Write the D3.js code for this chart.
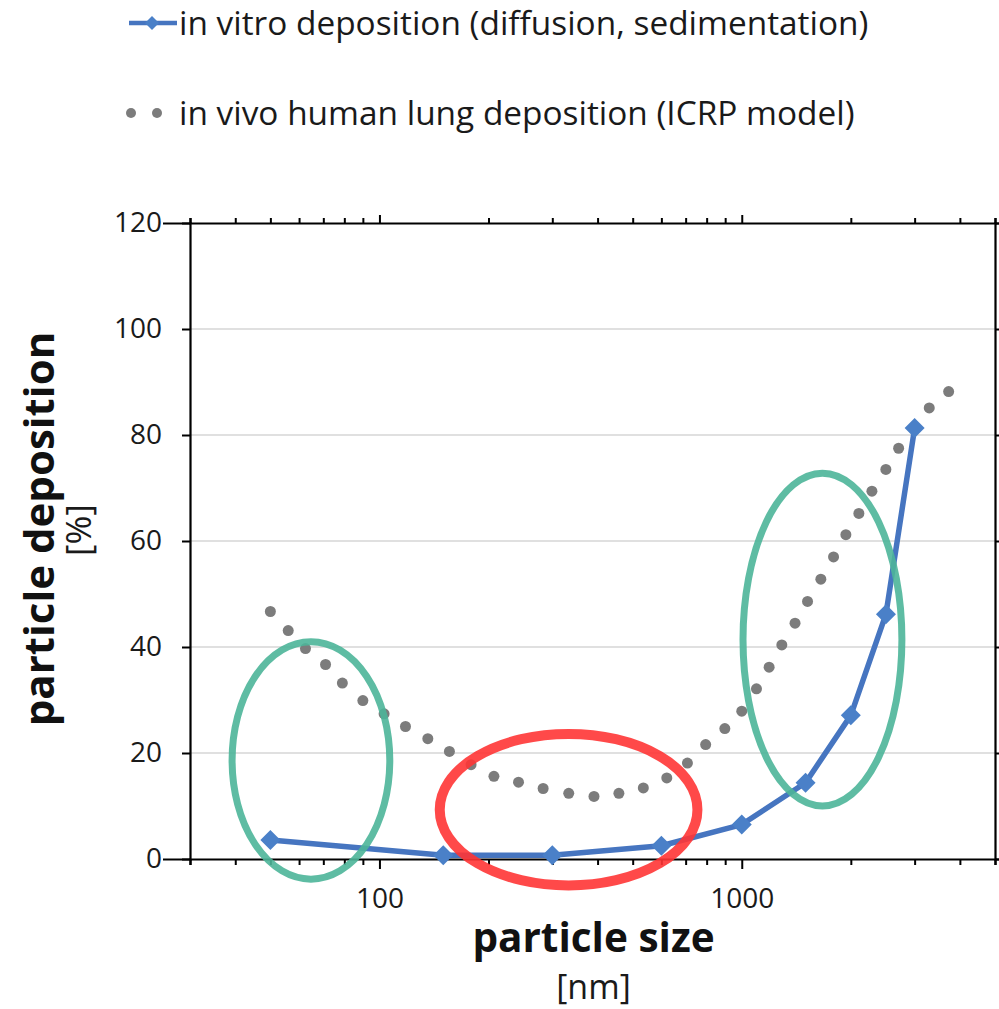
<!DOCTYPE html>
<html>
<head>
<meta charset="utf-8">
<script src="https://cdn.jsdelivr.net/npm/d3@7"></script>
<style>
  body { margin: 0; background: #fff; }
  svg { display: block; font-family: "Open Sans", sans-serif; }
</style>
</head>
<body>
<div id="chart"></div>
<script>
// in vitro deposition (diffusion, sedimentation)
const vitroSize = [50, 150, 300, 600, 1000, 1500, 2000, 2500, 3000];
const vitroDeposition = [3.6, 0.7, 0.7, 2.5, 6.5, 14.4, 27.1, 46.2, 81.3];

// in vivo human lung deposition (ICRP model), dotted curve
const vivoSize = [50, 56, 62.5, 71, 79, 90, 103, 118, 136, 156, 179, 207, 242, 283, 333, 391, 458, 535,
  621, 708, 795, 898, 1000, 1098, 1190, 1290, 1403, 1519, 1653, 1792, 1938, 2105, 2287, 2499, 2710, 2986, 3292, 3724];
const vivoDeposition = [46.7, 43.1, 39.7, 36.7, 33.2, 29.9, 27.4, 25.0, 22.7, 20.3, 17.8, 15.6, 14.5, 13.3, 12.4, 11.8, 12.4, 13.4,
  15.3, 18.1, 21.6, 24.6, 27.9, 32.1, 36.2, 40.4, 44.5, 48.6, 52.8, 57.0, 61.2, 65.2, 69.4, 73.5, 77.5, 81.3, 85.1, 88.2];

const yTicks = [0, 20, 40, 60, 80, 100, 120];
const xMajorTicks = [100, 1000];
const xMinorTicks = [30, 40, 50, 60, 70, 80, 90, 200, 300, 400, 500, 600, 700, 800, 900, 2000, 3000, 4000, 5000];

// highlighted regions (size range in nm, deposition range in %)
const zoneKind = ["green", "red", "green"];
const zoneSize = [[39.2, 106.8], [146.7, 754.5], [1008, 2767]];
const zoneDeposition = [[-3.8, 41.0], [-5.0, 23.6], [10.0, 72.8]];

const W = 999, H = 1009;
const M = { top: 223, right: 4, bottom: 150, left: 190 };
const BLUE = "#4675c0", BLUE_MARK = "#4a80c8", GREY = "#7c7c7c";
const ZONE_COLOR = { green: "#4db599", red: "#ff3535" };

const svg = d3.select("#chart").append("svg").attr("width", W).attr("height", H);

const x = d3.scaleLog().domain([30, 5000]).range([M.left, W - M.right]);
const y = d3.scaleLinear().domain([0, 120]).range([H - M.bottom, M.top]);

// gridlines
svg.append("g")
  .selectAll("line")
  .data(yTicks.filter((d) => d > 0 && d < 120))
  .enter()
  .append("line")
  .attr("x1", M.left)
  .attr("x2", W - M.right)
  .attr("y1", (d) => y(d))
  .attr("y2", (d) => y(d))
  .attr("stroke", "#d6d6d6")
  .attr("stroke-width", 1.5);

function styleAxis(g) {
  g.selectAll("path.domain").attr("stroke", "#000").attr("stroke-width", 2.2);
  g.selectAll(".tick line").attr("stroke", "#000").attr("stroke-width", 2);
  g.selectAll(".tick text").attr("font-family", "Open Sans").attr("font-size", 28).attr("fill", "#1a1a1a");
}

const bottomY = H - M.bottom;
svg.append("g").attr("transform", `translate(0,${bottomY})`)
  .call(d3.axisBottom(x).tickValues(xMinorTicks).tickSize(6).tickFormat(""))
  .call(styleAxis);
svg.append("g").attr("transform", `translate(0,${bottomY})`)
  .call(d3.axisBottom(x).tickValues(xMajorTicks).tickSize(10).tickPadding(19).tickFormat(d3.format("d")))
  .call(styleAxis)
  .call((g) => g.select("path.domain").remove());

svg.append("g").attr("transform", `translate(0,${M.top})`)
  .call(d3.axisTop(x).tickValues(xMinorTicks).tickSize(5).tickFormat(""))
  .call(styleAxis);
svg.append("g").attr("transform", `translate(0,${M.top})`)
  .call(d3.axisTop(x).tickValues(xMajorTicks).tickSize(8).tickFormat(""))
  .call(styleAxis)
  .call((g) => g.select("path.domain").remove());

svg.append("g").attr("transform", `translate(${M.left},0)`)
  .call(d3.axisLeft(y).tickValues(yTicks).tickSize(8).tickPadding(20))
  .call(styleAxis)
  .call((g) => g.selectAll(".tick line").filter((d) => d === 0 || d === 120).attr("x2", -27));

svg.append("g").attr("transform", `translate(${W - M.right},0)`)
  .call(d3.axisRight(y).tickValues(yTicks).tickSize(8).tickFormat(""))
  .call(styleAxis);

// in vivo dotted series
svg.append("g")
  .selectAll("circle")
  .data(vivoSize.map((s, i) => [s, vivoDeposition[i]]))
  .enter()
  .append("circle")
  .attr("cx", (d) => x(d[0]))
  .attr("cy", (d) => y(d[1]))
  .attr("r", 5.5)
  .attr("fill", GREY);

// in vitro line + diamonds
const vitro = vitroSize.map((s, i) => [s, vitroDeposition[i]]);
svg.append("path")
  .datum(vitro)
  .attr("fill", "none")
  .attr("stroke", BLUE)
  .attr("stroke-width", 5.5)
  .attr("stroke-linejoin", "round")
  .attr("d", d3.line().x((d) => x(d[0])).y((d) => y(d[1])));

const diamond = (r) => `M0,${-r}L${r},0L0,${r}L${-r},0Z`;
svg.append("g")
  .selectAll("path")
  .data(vitro)
  .enter()
  .append("path")
  .attr("transform", (d) => `translate(${x(d[0])},${y(d[1])})`)
  .attr("d", diamond(10))
  .attr("fill", BLUE_MARK);

// highlight ellipses
svg.append("g")
  .selectAll("ellipse")
  .data(zoneKind.map((k, i) => ({ kind: k, sx: zoneSize[i], dy: zoneDeposition[i] })))
  .enter()
  .append("ellipse")
  .attr("cx", (d) => (x(d.sx[0]) + x(d.sx[1])) / 2)
  .attr("cy", (d) => (y(d.dy[0]) + y(d.dy[1])) / 2)
  .attr("rx", (d) => (x(d.sx[1]) - x(d.sx[0])) / 2)
  .attr("ry", (d) => (y(d.dy[0]) - y(d.dy[1])) / 2)
  .attr("fill", "none")
  .attr("stroke", (d) => ZONE_COLOR[d.kind])
  .attr("stroke-width", (d) => (d.kind === "red" ? 10 : 7))
  .attr("stroke-opacity", 0.9);

// axis titles
svg.append("text")
  .attr("x", (M.left + W - M.right) / 2 + 1)
  .attr("y", 952)
  .attr("text-anchor", "middle")
  .attr("font-size", 40.5)
  .attr("font-weight", "bold")
  .attr("fill", "#111")
  .text("particle size");
svg.append("text")
  .attr("x", (M.left + W - M.right) / 2 + 1)
  .attr("y", 999)
  .attr("text-anchor", "middle")
  .attr("font-size", 34)
  .attr("fill", "#1a1a1a")
  .text("[nm]");

svg.append("text")
  .attr("transform", "translate(54,529) rotate(-90)")
  .attr("text-anchor", "middle")
  .attr("font-size", 42)
  .attr("font-weight", "bold")
  .attr("fill", "#111")
  .text("particle deposition");
svg.append("text")
  .attr("transform", "translate(91,530) rotate(-90)")
  .attr("text-anchor", "middle")
  .attr("font-size", 35)
  .attr("fill", "#1a1a1a")
  .text("[%]");

// legend
const legend = svg.append("g");
legend.append("line")
  .attr("x1", 129).attr("x2", 177).attr("y1", 23).attr("y2", 23)
  .attr("stroke", BLUE).attr("stroke-width", 4.5);
legend.append("path")
  .attr("transform", "translate(152,23)")
  .attr("d", diamond(7))
  .attr("fill", BLUE_MARK);
legend.selectAll("circle")
  .data([131, 157])
  .enter()
  .append("circle")
  .attr("cx", (d) => d)
  .attr("cy", 113)
  .attr("r", 5)
  .attr("fill", GREY);
legend.append("text")
  .attr("x", 179).attr("y", 35)
  .attr("font-size", 33.4).attr("fill", "#1a1a1a")
  .text("in vitro deposition (diffusion, sedimentation)");
legend.append("text")
  .attr("x", 179).attr("y", 125)
  .attr("font-size", 33.4).attr("fill", "#1a1a1a")
  .text("in vivo human lung deposition (ICRP model)");
</script>
</body>
</html>
